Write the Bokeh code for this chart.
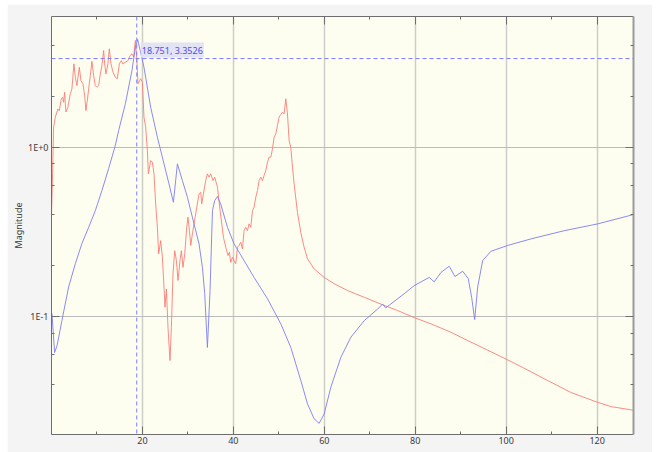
from bokeh.plotting import figure
from bokeh.models import (Range1d, FixedTicker, LinearAxis, LogAxis, Span, Label,
                          CustomJSTickFormatter, Spacer, ColumnDataSource)
from bokeh.layouts import row, column
from bokeh.embed import file_html
from bokeh.resources import INLINE

# Modelled frequency response (blue)
model_freq = [0.1, 0.68, 1.23, 2.29, 3.76, 5.24, 6.69, 8.17, 9.64, 11.09, 12.57, 14.04,
              14.77, 16.24, 17.70, 18.45, 18.95, 20.34, 21.81, 23.29, 24.74, 25.84, 26.81,
              27.69, 28.79, 29.89, 31.35, 32.45, 33.19, 33.70, 34.29, 34.87, 35.40, 35.90,
              36.50, 37.20, 38.70, 40.15, 42.35, 44.55, 47.50, 50.43, 52.63, 54.83, 56.31,
              57.76, 58.86, 59.96, 61.43, 63.64, 65.84, 68.77, 71.70, 72.80, 73.50, 74.60,
              77.57, 79.77, 83.07, 84.17, 85.65, 87.48, 88.73, 90.43, 91.66, 92.41, 93.07,
              93.73, 94.83, 96.65, 100.3, 105.5, 112.8, 120.1, 128.0]
model_mag = [0.105, 0.0615, 0.0677, 0.095, 0.150, 0.206, 0.271, 0.338, 0.424, 0.557, 0.751,
             1.03, 1.26, 1.81, 2.85, 3.91, 4.35, 2.98, 1.73, 1.15, 0.801, 0.610, 0.475,
             0.801, 0.638, 0.509, 0.354, 0.270, 0.196, 0.137, 0.066, 0.143, 0.424, 0.486,
             0.514, 0.465, 0.338, 0.270, 0.215, 0.171, 0.128, 0.091, 0.066, 0.0421, 0.0306,
             0.0250, 0.0235, 0.0267, 0.0384, 0.0577, 0.0758, 0.095, 0.111, 0.119, 0.113,
             0.119, 0.137, 0.153, 0.171, 0.161, 0.183, 0.199, 0.173, 0.186, 0.168, 0.130,
             0.0964, 0.150, 0.215, 0.244, 0.264, 0.289, 0.323, 0.354, 0.402]

# Measured spectrum (red)
meas_freq = [0.0, 0.24, 0.46, 0.84, 1.41, 1.72, 2.16, 2.44, 2.66, 2.88, 3.17, 3.61, 4.14,
             4.49, 4.93, 5.24, 5.59, 6.12, 6.47, 6.91, 7.29, 7.57, 7.88, 8.17, 8.54, 8.89,
             9.27, 9.64, 9.99, 10.37, 10.74, 11.09, 11.47, 11.69, 11.97, 12.41, 12.72, 13.08,
             13.52, 14.04, 14.48, 14.92, 15.36, 15.65, 16.24, 16.82, 17.26, 17.70, 18.07,
             18.45, 18.751, 19.02, 19.61, 19.99, 20.34, 20.71, 21.09, 21.31, 21.81, 22.19,
             22.54, 22.91, 23.29, 23.57, 24.02, 24.39, 24.74, 24.96, 25.27, 25.62, 26.06,
             26.37, 26.72, 27.10, 27.47, 27.82, 28.26, 28.57, 28.92, 29.30, 29.74, 30.02,
             30.33, 30.62, 30.99, 31.34, 31.72, 32.07, 32.45, 32.82, 33.04, 33.41, 33.92,
             34.29, 34.65, 35.02, 35.53, 35.90, 36.50, 37.10, 37.82, 38.32, 38.83, 39.14,
             39.42, 39.80, 40.15, 40.52, 40.90, 41.25, 41.62, 42.00, 42.35, 42.73, 43.10,
             43.45, 43.83, 44.20, 44.55, 44.93, 45.30, 45.65, 46.03, 46.40, 46.75, 47.13,
             47.50, 47.85, 48.23, 48.60, 48.95, 49.33, 49.70, 50.05, 50.43, 50.80, 51.16,
             51.53, 51.90, 52.26, 52.63, 53.00, 53.36, 54.10, 54.83, 55.56, 56.31, 57.76,
             59.96, 62.16, 65.11, 68.77, 72.44, 76.12, 79.77, 83.45, 87.85, 91.52, 98.85,
             103.25, 109.1, 114.3, 120.1, 123.1, 128.0]
meas_mag = [0.397, 0.70, 1.32, 1.51, 1.69, 1.65, 1.94, 1.98, 1.85, 2.12, 1.62, 1.73, 2.08,
            2.22, 3.12, 2.60, 2.32, 2.98, 2.49, 2.38, 2.03, 1.65, 1.90, 2.22, 2.66, 3.23,
            2.66, 2.32, 2.27, 2.32, 2.72, 3.05, 3.74, 3.12, 2.72, 3.12, 3.83, 3.12,
            2.79, 2.60, 2.55, 3.12, 3.26, 3.12, 3.19, 3.26, 3.49, 3.58, 3.42,
            4.29, 3.3526, 2.38, 2.55, 2.43, 1.51, 1.32, 0.960, 0.699, 0.838, 0.819,
            0.699, 0.465, 0.338, 0.2355, 0.282, 0.225, 0.1496, 0.114, 0.146, 0.0868, 0.0552,
            0.0868, 0.1795, 0.246, 0.215, 0.164, 0.215, 0.246, 0.196, 0.2355, 0.338, 0.388,
            0.323, 0.264, 0.309, 0.354, 0.406, 0.465, 0.533, 0.545, 0.465, 0.533, 0.638,
            0.699, 0.668, 0.699, 0.638, 0.668, 0.583, 0.42, 0.295, 0.258, 0.230, 0.241,
            0.210, 0.225, 0.215, 0.206, 0.258, 0.264, 0.276, 0.252, 0.323, 0.338, 0.323,
            0.354, 0.338, 0.424, 0.444, 0.509, 0.557, 0.638, 0.668, 0.638, 0.683, 0.731,
            0.819, 0.877, 0.877, 0.982, 1.15, 1.205, 1.349, 1.51, 1.567, 1.616, 1.58,
            1.94, 1.58, 1.10, 1.00, 0.765, 0.610, 0.413, 0.315, 0.258, 0.220, 0.192,
            0.171, 0.157, 0.143, 0.1305, 0.119, 0.109, 0.099, 0.091, 0.0811, 0.0725, 0.0583,
            0.0509, 0.0421, 0.0357, 0.0313, 0.0295, 0.0281]

# Cursor readout
cursor_freq = 18.751
cursor_mag = 3.3526

x_major = [20, 40, 60, 80, 100, 120]
x_minor = [10, 30, 50, 70, 90, 110]
y_major = [0.1, 1.0]
y_minor = [0.02, 0.04, 0.06, 0.08, 0.2, 0.4, 0.6, 0.8, 2, 4]

FONT = "Noto Sans"
AXIS_COLOR = "#6e6e6e"
LABEL_COLOR = "#3a3a3a"

p = figure(width=645, height=448,
           x_range=Range1d(0, 128), y_range=Range1d(0.0202, 5.94),
           y_axis_type="log", output_backend="svg", toolbar_location=None,
           min_border_left=44, min_border_right=19, min_border_top=12, min_border_bottom=18,
           background_fill_color="#fefef0", border_fill_color="#f4f4f4",
           outline_line_color=None)

xticker = FixedTicker(ticks=x_major, minor_ticks=x_minor)
yticker = FixedTicker(ticks=y_major, minor_ticks=y_minor)
exp_fmt = CustomJSTickFormatter(code="""
    const e = Math.round(Math.log10(tick));
    return "1E" + (e >= 0 ? "+" : "") + e;
""")


def style_axis(ax, show_labels=True):
    ax.axis_line_color = AXIS_COLOR
    ax.axis_line_width = 1
    ax.major_tick_line_color = AXIS_COLOR
    ax.minor_tick_line_color = AXIS_COLOR
    ax.major_tick_in = 8
    ax.major_tick_out = 0
    ax.minor_tick_in = 3
    ax.minor_tick_out = 0
    if show_labels:
        ax.major_label_text_font = FONT
        ax.major_label_text_font_size = "9px"
        ax.major_label_text_color = LABEL_COLOR
        ax.major_label_standoff = 3
    else:
        # tick marks only, no labels on this side
        ax.major_label_text_font_size = "0px"
        ax.major_label_text_color = None
        ax.major_label_text_alpha = 0
        ax.major_label_standoff = 0


xa = p.xaxis[0]
xa.ticker = xticker
style_axis(xa)
xa.major_label_standoff = 2

ya = p.yaxis[0]
ya.ticker = yticker
ya.formatter = exp_fmt
style_axis(ya)
ya.axis_label = "Magnitude"
ya.axis_label_text_font = FONT
ya.axis_label_text_font_size = "9px"
ya.axis_label_text_font_style = "normal"
ya.axis_label_text_color = LABEL_COLOR
ya.axis_label_standoff = 0

top = LinearAxis(ticker=xticker)
style_axis(top, show_labels=False)
p.add_layout(top, "above")

right = LogAxis(ticker=yticker, formatter=exp_fmt)
style_axis(right, show_labels=False)
right.axis_line_color = "#9a9a9a"
right.axis_line_width = 2
p.add_layout(right, "right")

p.xgrid.ticker = xticker
p.xgrid.grid_line_color = "#cdcdc8"
p.xgrid.grid_line_width = 1.5
p.ygrid.ticker = yticker
p.ygrid.grid_line_color = "#bcbcbc"
p.ygrid.grid_line_width = 1

meas = ColumnDataSource(dict(f=meas_freq, m=meas_mag))
model = ColumnDataSource(dict(f=model_freq, m=model_mag))
p.line("f", "m", source=meas, line_color="#fb7d78", line_width=1, line_alpha=0.9)
p.line("f", "m", source=model, line_color="#7d7df4", line_width=1, line_alpha=0.9)

# Crosshair cursor with its readout
p.add_layout(Span(location=cursor_freq, dimension="height", line_color="#7b7bff",
                  line_width=1, line_dash="4 3"))
p.add_layout(Span(location=cursor_mag, dimension="width", line_color="#7b7bff",
                  line_width=1, line_dash="4 3"))
p.add_layout(Label(x=cursor_freq, y=cursor_mag, text=f"{cursor_freq}, {cursor_mag}",
                   x_offset=4, y_offset=1, text_baseline="bottom",
                   text_font=FONT, text_font_size="9px", text_color="#4f4fe0",
                   background_fill_color="#e2e2f6", background_fill_alpha=0.95,
                   padding=1))

# x-axis title sitting under the tick labels
p.add_layout(Label(x=64, y=-12, y_units="screen", text="Frequency [Hz]",
                   text_align="center", text_baseline="top",
                   text_font=FONT, text_font_size="9px", text_color=LABEL_COLOR))

layout = row(Spacer(width=7), column(Spacer(height=4), p))

open("out.html", "w").write(file_html(layout, INLINE))
